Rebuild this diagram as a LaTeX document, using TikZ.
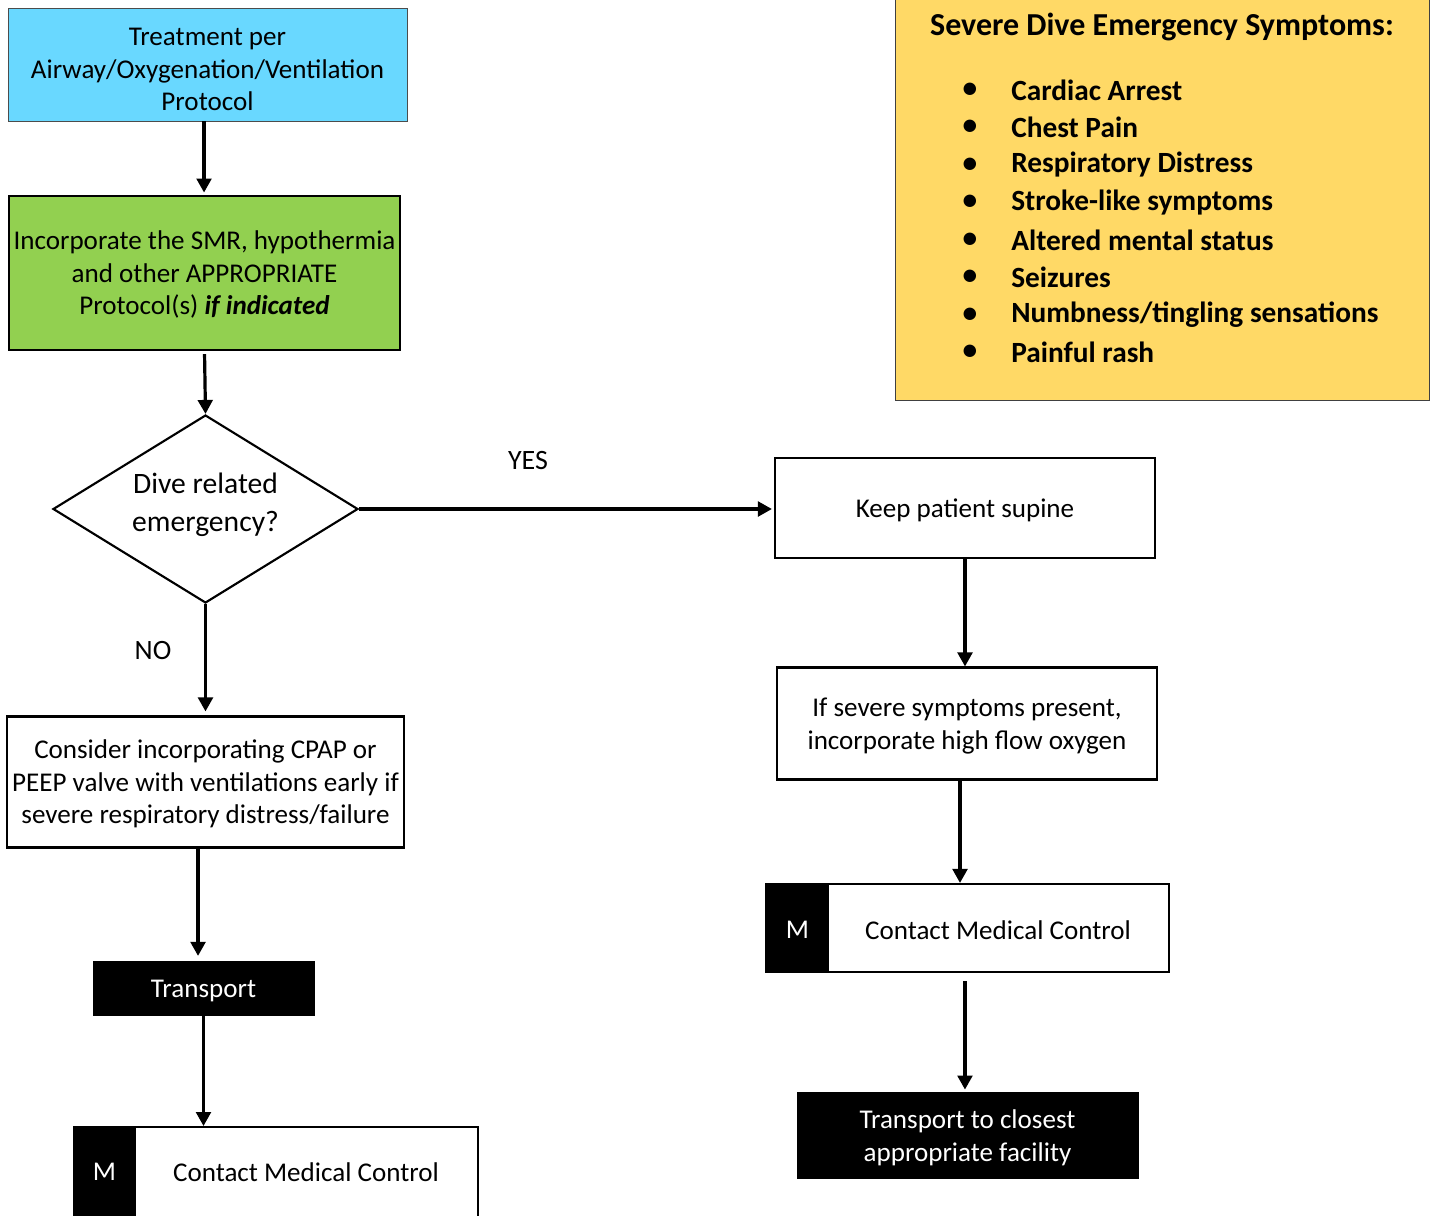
\documentclass[tikz,border=0pt]{standalone}
\usepackage{fontspec}
\setmainfont{Carlito}
\usetikzlibrary{shapes.geometric,arrows.meta,calc}
\definecolor{cyanbox}{HTML}{69D8FF}
\definecolor{greenbox}{HTML}{92D050}
\definecolor{yellowbox}{HTML}{FFD966}
\begin{document}
\begin{tikzpicture}[x=0.75pt,y=-0.75pt,
  every node/.style={font=\fontsize{20.3}{24.4}\selectfont, align=center, inner sep=0pt},
  lowtext/.style={text depth=0pt},
  box/.style={draw, line width=1.6pt, fill=white, rectangle, lowtext},
  blackbox/.style={draw, fill=black, text=white, rectangle, lowtext},
  arr/.style={-{Triangle[width=11pt,length=10.5pt]}, line width=2.4pt},
  lbl/.style={font=\fontsize{21}{24}\selectfont},
  bl/.style={font=\fontsize{22}{26}\selectfont\bfseries}
]
\useasboundingbox (0,0) rectangle (1430,1215);
\begin{scope}
\clip (0,0) rectangle (1430,1215);
% yellow symptoms box
\node[draw=black!75, line width=0.9pt, fill=yellowbox, minimum width=534*0.75pt, minimum height=410*0.75pt, anchor=north west] (sym) at (895,-10) {};
\node[font=\fontsize{24}{28}\selectfont\bfseries] (symtitle) at (1162,27) {Severe Dive Emergency Symptoms:};
\foreach \t [count=\i] in {Cardiac Arrest, Chest Pain, Respiratory Distress, Stroke-like symptoms, Altered mental status, Seizures, Numbness/tingling sensations, Painful rash}{
  \node[bl] (bul\i) at (970, 52.5+37.5*\i) {\textbullet};
  \node[bl, anchor=west] (item\i) at (1011, 52.5+37.5*\i) {\t};
}

% left column
\node[draw=black!70, line width=0.6pt, fill=cyanbox, minimum width=399*0.75pt, minimum height=113*0.75pt] (blue) at (207.5,64.5) {};
\node[lowtext] (bluet) at (207.5,69.5) {Treatment per\\Airway/Oxygenation/Ventilation\\Protocol};
\node[draw, line width=2.2pt, fill=greenbox, minimum width=391*0.75pt, minimum height=154*0.75pt, lowtext] (green) at (204.5,273) {Incorporate the SMR, hypothermia\\and other APPROPRIATE\\Protocol(s) \textbf{\textit{if indicated}}};
\node[draw, line width=1.6pt, fill=white, diamond, aspect=1.62, minimum width=305*0.75pt, minimum height=188*0.75pt] (dia) at (205.5,509) {};
\node[font=\fontsize{22.2}{28.5}\selectfont] (diat) at (205.5,505) {Dive related\\emergency?};
\node[box, minimum width=397*0.75pt, minimum height=131*0.75pt] (cpap) at (205.5,782) {Consider incorporating CPAP or\\PEEP valve with ventilations early if\\severe respiratory distress/failure};
\node[blackbox, minimum width=221*0.75pt, minimum height=54*0.75pt] (tleft) at (203.5,988.5) {Transport};
\node[draw, line width=1.6pt, fill=white, minimum width=404*0.75pt, minimum height=110*0.75pt, anchor=north west] (mleft) at (73,1126) {};
\fill (mleft.north west) rectangle (136,1240);
\node[text=white] (mlefta) at (104.5,1172) {M};
\node (mleftt) at (306,1172) {Contact Medical Control};

% right column
\node[box, minimum width=380*0.75pt, minimum height=100*0.75pt] (keep) at (965,508) {Keep patient supine};
\node[box, minimum width=380*0.75pt, minimum height=112*0.75pt] (sev) at (967,723.5) {If severe symptoms present,\\incorporate high flow oxygen};
\node[draw, line width=1.6pt, fill=white, minimum width=403*0.75pt, minimum height=88*0.75pt] (mright) at (967.5,928) {};
\fill (mright.north west) rectangle (829,972);
\node[text=white] (mrighta) at (797.5,930) {M};
\node (mrightt) at (998,930) {Contact Medical Control};
\node[blackbox, minimum width=341*0.75pt, minimum height=86*0.75pt] (tright) at (967.5,1135.5) {Transport to closest\\appropriate facility};

% labels
\node[lbl] (yes) at (528,460) {YES};
\node[lbl] (no) at (153,650) {NO};

% connectors
\draw[arr, shorten >=1.5pt] ([xshift=-2.6pt]blue.south) -- ([xshift=-2.6pt]blue.south |- green.north);
\draw[arr, shorten <=2pt] (green.south) -- (dia.north);
\draw[arr, shorten >=1.5pt] (dia.east) -- (dia.east -| keep.west);
\draw[arr, shorten >=3pt] (dia.south) -- (dia.south |- cpap.north);
\draw[arr] (keep.south) -- (keep.south |- sev.north);
\draw[arr] ([xshift=-5.25pt]sev.south) -- ([xshift=-5.25pt]sev.south |- mright.north);
\draw[arr, shorten <=6pt, shorten >=2pt] ([xshift=-1.9pt]mright.south) -- ([xshift=-1.9pt]mright.south |- tright.north);
\draw[arr, shorten >=4pt] ([xshift=-5.6pt]cpap.south) -- ([xshift=-5.6pt]cpap.south |- tleft.north);
\draw[arr] (tleft.south) -- (tleft.south |- mleft.north);
\end{scope}
\end{tikzpicture}
\end{document}
